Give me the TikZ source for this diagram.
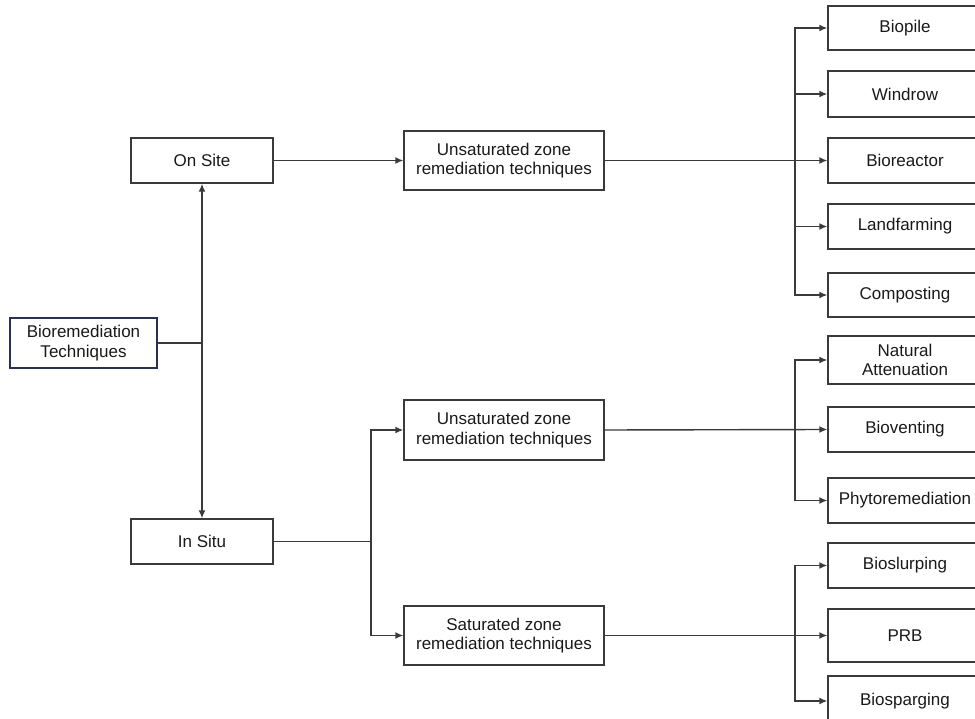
\documentclass[tikz,border=0pt]{standalone}
\usepackage{fontspec}
\setmainfont{Liberation Sans}
\usetikzlibrary{arrows.meta}
\definecolor{linegray}{HTML}{3A3A3A}
\definecolor{navyedge}{HTML}{2A3050}
\begin{document}
\begin{tikzpicture}[x=1pt,y=1pt]

      \tikzset{box/.style={draw=linegray, line width=1.4pt, rectangle, inner sep=1pt, align=center,
               text=black!90, font=\fontsize{17}{19.5}\selectfont, minimum width=142pt, minimum height=45pt},
               leaf/.style={box, minimum width=154pt},
               zone/.style={box, minimum width=200pt, minimum height=59pt},
               link/.style={draw=linegray, line width=1.4pt},
               arr/.style={link, -{Latex[length=8pt,width=7pt]}}}
      \useasboundingbox (0,0) rectangle (975,-719);
      \clip (0,0) rectangle (975,-719);
%% Left part
      	\node[box, draw=navyedge, minimum width=147pt, minimum height=50pt] (bio) at (83.5,-343) {Bioremediation\\Techniques};
      	\node[box] (onsite) at (202,-160.5) {On Site};
      	\node[box] (insitu) at (202,-541.5) {In Situ};
%% Zones
      	\node[zone] (unsatA) at (504,-160.5) {Unsaturated zone\\remediation techniques};
      	\node[zone, minimum height=60pt] (unsatB) at (504,-430) {Unsaturated zone\\remediation techniques};
      	\node[zone] (sat) at (504,-635.5) {Saturated zone\\remediation techniques};
%% Leaves
      	\node[leaf, minimum height=44pt] (biopile) at (905,-28) {Biopile};
      	\node[leaf, minimum height=46pt] (windrow) at (905,-94) {Windrow};
      	\node[leaf] (bioreactor) at (905,-160.5) {Bioreactor};
      	\node[leaf] (landfarming) at (905,-226.5) {Landfarming};
      	\node[leaf, minimum height=44pt] (composting) at (905,-295) {Composting};
      	\node[leaf, minimum height=48pt] (natatt) at (905,-360) {Natural\\Attenuation};
      	\node[leaf] (bioventing) at (905,-429.5) {Bioventing};
      	\node[leaf] (phyto) at (905,-500.5) {Phytoremediation};
      	\node[leaf] (bioslurping) at (905,-565.5) {Bioslurping};
      	\node[leaf, minimum height=53pt] (prb) at (905,-635.5) {PRB};
      	\node[leaf, minimum height=50pt] (biosparging) at (905,-701) {Biosparging};
%% Junctions
      	\coordinate (jA) at (202,-343);
      	\coordinate (jB) at (371,-541.5);
      	\coordinate (busA) at (795,-160.5);
      	\coordinate (busB) at (795,-429.5);
      	\coordinate (busC) at (795,-635.5);
%Edges
		\path[link] (bio.east) -- (jA);
		\path[arr] (jA) -- (onsite.south);
		\path[arr] (jA) -- (insitu.north);
		\path[arr] (onsite.east) -- (unsatA.west);
		\path[link] (insitu.east) -- (jB);
		\path[arr] (jB) |- (unsatB.west);
		\path[arr] (jB) |- (sat.west);
		\path[arr] (unsatA.east) -- (bioreactor.west);
		\path[arr] (busA) |- (biopile.west);
		\path[arr] (busA) |- (windrow.west);
		\path[arr] (busA) |- (landfarming.west);
		\path[arr] (busA) |- (composting.west);
		\path[arr] (unsatB.east) -- (bioventing.west);
		\path[arr] (busB) |- (natatt.west);
		\path[arr] (busB) |- (phyto.west);
		\path[arr] (sat.east) -- (prb.west);
		\path[arr] (busC) |- (bioslurping.west);
		\path[arr] (busC) |- (biosparging.west);

	\end{tikzpicture}
\end{document}
